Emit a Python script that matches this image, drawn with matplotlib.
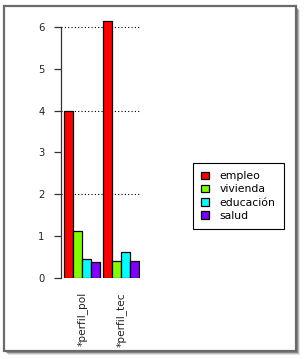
import matplotlib
matplotlib.use("Agg")
import matplotlib.pyplot as plt
from matplotlib.patches import Rectangle

groups = ["*perfil_pol", "*perfil_tec"]
categories = ["empleo", "vivienda", "educación", "salud"]
colors = ["#FF0000", "#80FF00", "#00FFFF", "#8000FF"]
values = {
    "empleo":    [4.00, 6.15],
    "vivienda":  [1.12, 0.40],
    "educación": [0.46, 0.63],
    "salud":     [0.38, 0.40],
}
yticks = [0, 1, 2, 3, 4, 5, 6]
grid_levels = [2, 4, 6]

plt.rcParams['font.family'] = ['DejaVu Sans']

W, H = 304, 359
fig = plt.figure(figsize=(W / 100, H / 100), dpi=100)

# outer frame with soft shadow
for k, a in [(4, 0.10), (3, 0.18), (2, 0.28), (1, 0.35)]:
    fig.add_artist(Rectangle(((4 + k) / W, 1 - (351 + k) / H), 292 / W, 345 / H,
                             transform=fig.transFigure, facecolor='#000000',
                             alpha=a, edgecolor='none', zorder=0))
fig.add_artist(Rectangle((4 / W, 1 - 351 / H), 292 / W, 345 / H,
                         transform=fig.transFigure, facecolor='white',
                         edgecolor='#6a6a6a', lw=1.6, zorder=1))

ax = fig.add_axes([61 / W, (H - 278) / H, 79 / W, (278 - 18.6) / H])
ax.set_zorder(2)
ax.patch.set_alpha(0)

gap = 1 / 3
group_lefts = [g * (len(categories) + gap) for g in range(len(groups))]
handles = []
for i, (cat, col) in enumerate(zip(categories, colors)):
    xs = [gl + i + 0.5 for gl in group_lefts]
    b = ax.bar(xs, values[cat], width=1.0, color=col, edgecolor='black',
               linewidth=0.9, zorder=3, label=cat)
    handles.append(b)

ax.set_xlim(-1 / 3, 8.444)
ax.set_ylim(0, 6.2)
ax.hlines(grid_levels, -1 / 3, 8.444, colors='black', linestyles=(0, (1, 2)),
          linewidth=0.8, zorder=1)

for s in ['top', 'right', 'bottom']:
    ax.spines[s].set_visible(False)
ax.spines['left'].set_bounds(0, 6)
ax.spines['left'].set_color('#333333')
ax.spines['left'].set_linewidth(0.9)

ax.set_yticks(yticks)
ax.set_yticklabels([str(t) for t in yticks])
ax.tick_params(axis='y', length=5, width=0.9, color='#333333', pad=7,
               labelsize=7.2, labelcolor='#222222')

centers = [gl + len(categories) / 2 for gl in group_lefts]
ax.set_xticks(centers)
ax.set_xticklabels(groups, rotation=90, fontsize=7.6, color='#222222')
ax.tick_params(axis='x', length=0, pad=10)

leg = ax.legend(handles=handles, labels=categories, loc='upper left',
                bbox_to_anchor=(193 / W, 1 - 163 / H),
                bbox_transform=fig.transFigure, fancybox=False,
                edgecolor='black', framealpha=1, fontsize=7.8,
                handlelength=0.7, handleheight=0.7, handletextpad=1.0,
                labelspacing=0.3, borderpad=0.75, borderaxespad=0)
leg.get_frame().set_linewidth(0.8)

fig.savefig("out.png", dpi=100)
